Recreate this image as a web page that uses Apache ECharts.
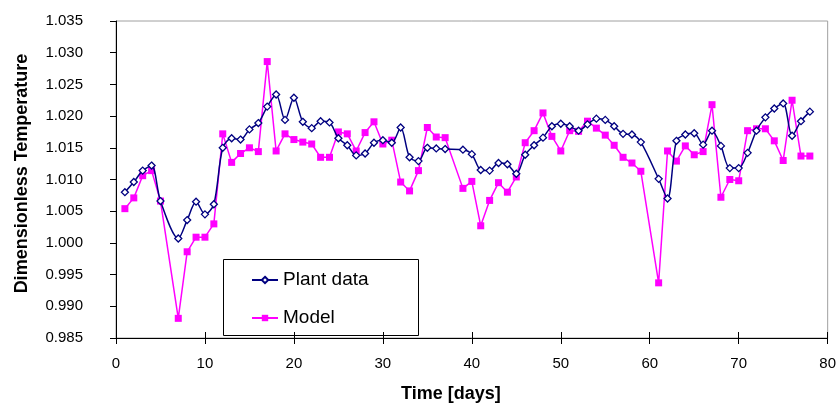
<!DOCTYPE html>
<html><head><meta charset="utf-8">
<script src="https://cdn.jsdelivr.net/npm/echarts@6/dist/echarts.min.js"></script>
<style>html,body{margin:0;padding:0;background:#fff}#c{width:839px;height:408px}</style>
</head><body><div id="c"></div>
<script>
var days = [1,2,3,4,5,7,8,9,10,11,12,13,14,15,16,17,18,19,20,21,22,23,24,25,26,27,28,29,30,31,32,33,34,35,36,37,39,40,41,42,43,44,45,46,47,48,49,50,51,52,53,54,55,56,57,58,59,61,62,63,64,65,66,67,68,69,70,71,72,73,74,75,76,77,78];
var plantData = [1.0080,1.0096,1.0114,1.0122,1.0066,1.0007,1.0036,1.0065,1.0045,1.0061,1.0150,1.0165,1.0163,1.0179,1.0189,1.0215,1.0234,1.0194,1.0229,1.0191,1.0181,1.0192,1.0190,1.0165,1.0154,1.0138,1.0141,1.0158,1.0162,1.0158,1.0182,1.0135,1.0129,1.0150,1.0149,1.0148,1.0147,1.0140,1.0115,1.0114,1.0126,1.0124,1.0109,1.0139,1.0154,1.0166,1.0184,1.0188,1.0184,1.0177,1.0187,1.0196,1.0194,1.0184,1.0172,1.0171,1.0159,1.0101,1.0070,1.0161,1.0171,1.0173,1.0155,1.0177,1.0153,1.0118,1.0118,1.0142,1.0177,1.0198,1.0212,1.0220,1.0169,1.0192,1.0207];
var modelData = [1.0054,1.0071,1.0106,1.0114,1.0066,0.9881,0.9986,1.0009,1.0009,1.0030,1.0172,1.0127,1.0141,1.0150,1.0144,1.0286,1.0145,1.0172,1.0163,1.0159,1.0156,1.0135,1.0135,1.0175,1.0172,1.0145,1.0174,1.0191,1.0156,1.0162,1.0096,1.0082,1.0114,1.0182,1.0167,1.0166,1.0086,1.0097,1.0027,1.0067,1.0095,1.0080,1.0104,1.0158,1.0177,1.0205,1.0168,1.0145,1.0177,1.0176,1.0192,1.0181,1.0170,1.0154,1.0135,1.0126,1.0113,0.9937,1.0145,1.0129,1.0153,1.0139,1.0144,1.0218,1.0072,1.0100,1.0098,1.0177,1.0180,1.0180,1.0161,1.0130,1.0225,1.0137,1.0137];
var seriesNames = ['Plant data', 'Model'];
var xTitle = 'Time [days]';
var yTitle = 'Dimensionless Temperature';

function pairs(vals){ return days.map(function(d,i){ return [d, vals[i]]; }); }

var chart = echarts.init(document.getElementById('c'), null, {renderer:'canvas'});
var font = 'Liberation Sans, Arial, sans-serif';
chart.setOption({
  animation: false,
  backgroundColor: '#fff',
  grid: {left: 116, right: 8, top: 21, bottom: 64, show: true, borderColor: '#a0a0a0', borderWidth: 1},
  xAxis: [{
    type: 'value', min: 0, max: 80, interval: 10,
    name: xTitle, nameLocation: 'middle', nameGap: 47,
    nameTextStyle: {fontFamily: font, fontWeight: 'bold', fontSize: 18, color: '#000', padding: [0, 42, 0, 0]},
    axisLine: {show: true, lineStyle: {color: '#000', width: 1}},
    axisTick: {show: true, length: 6, lineStyle: {color: '#000'}},
    axisLabel: {fontFamily: font, fontSize: 15, color: '#000', margin: 18},
    splitLine: {show: false}
  },{
    type: 'value', min: 0, max: 80, interval: 10, position: 'bottom',
    axisLine: {show: false},
    axisTick: {show: true, inside: true, length: 6, lineStyle: {color: '#000'}},
    axisLabel: {show: false},
    splitLine: {show: false}
  }],
  yAxis: {
    type: 'value', min: 0.985, max: 1.035, interval: 0.005,
    name: yTitle, nameLocation: 'middle', nameGap: 85, nameRotate: 90,
    nameTextStyle: {fontFamily: font, fontWeight: 'bold', fontSize: 18, color: '#000', padding: [0, 0, 0, 12]},
    axisLine: {show: true, lineStyle: {color: '#000', width: 1}},
    axisTick: {show: true, length: 6, lineStyle: {color: '#000'}},
    axisLabel: {fontFamily: font, fontSize: 15, color: '#000', margin: 33,
      formatter: function(v){ return v.toFixed(3); }},
    splitLine: {show: false}
  },
  legend: {
    orient: 'vertical', left: 251, top: 270, itemGap: 18,
    itemWidth: 26, itemHeight: 8, padding: 0,
    textStyle: {fontFamily: font, fontSize: 19, color: '#000', lineHeight: 20},
    data: seriesNames
  },
  graphic: [{
    type: 'rect', left: 223, top: 259, z: 0,
    shape: {width: 195, height: 76},
    style: {fill: '#fff', stroke: '#000', lineWidth: 1}
  }],
  series: [{
    name: seriesNames[0], type: 'line', data: pairs(plantData),
    smooth: 0.3, symbol: 'diamond', symbolSize: 7,
    lineStyle: {color: '#000080', width: 1.5},
    itemStyle: {color: '#ffffff', borderColor: '#000080', borderWidth: 1.3},
    z: 3
  },{
    name: seriesNames[1], type: 'line', data: pairs(modelData),
    symbol: 'rect', symbolSize: 7,
    lineStyle: {color: '#ff00ff', width: 1.5},
    itemStyle: {color: '#ff00ff'},
    z: 2
  }]
});
</script></body></html>
